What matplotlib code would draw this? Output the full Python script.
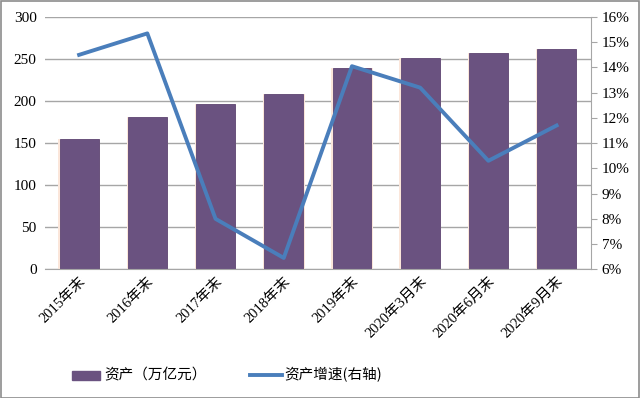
import matplotlib.pyplot as plt
from matplotlib.patches import Rectangle
from matplotlib.lines import Line2D

plt.rcParams['font.family'] = ['Liberation Serif', 'Noto Sans CJK SC']

# data
categories = ['2015年末', '2016年末', '2017年末', '2018年末', '2019年末',
              '2020年3月末', '2020年6月末', '2020年9月末']
assets = [155, 181, 196, 209, 239, 251, 257, 262]          # 万亿元
growth = [14.5, 15.35, 8.0, 6.45, 14.05, 13.2, 10.3, 11.7]  # %

bar_color = '#6A5280'
line_color = '#4A7EBB'

fig = plt.figure(figsize=(6.4, 3.98), dpi=100)
ax = fig.add_axes([45 / 640, 1 - 269.3 / 398, 545.7 / 640, 252.3 / 398])

x = range(len(categories))
# faint glow behind the bars, then the bars
ax.bar(x, assets, width=0.61, color='#FBE6DA', zorder=2)
ax.bar(x, assets, width=0.57, color=bar_color, edgecolor='#5E4775',
       linewidth=0.6, zorder=2)
ax.set_xlim(-0.5, len(categories) - 0.5)
ax.set_ylim(0, 300)
ax.set_yticks(range(0, 301, 50))
ax.yaxis.grid(True, color='#A6A6A6', linewidth=1)
ax.set_axisbelow(True)
ax.tick_params(axis='y', length=0, labelsize=11, pad=6)
ax.tick_params(axis='x', length=0, labelsize=10.5, pad=4)
ax.set_xticks(list(x))
ax.set_xticklabels(categories, rotation=45, ha='right', va='top',
                   rotation_mode='anchor')
for s in ['top', 'left', 'right']:
    ax.spines[s].set_visible(False)
ax.spines['bottom'].set_color('#A6A6A6')

ax2 = ax.twinx()
ax2.plot(x, growth, color=line_color, linewidth=2.8, zorder=3)
ax2.set_ylim(6, 16)
ax2.set_yticks(range(6, 17))
ax2.set_yticklabels([f'{v}%' for v in range(6, 17)])
ax2.tick_params(axis='y', direction='out', length=4, color='#A6A6A6',
                labelsize=11, pad=4)
for s in ['top', 'left', 'bottom']:
    ax2.spines[s].set_visible(False)
ax2.spines['right'].set_color('#A6A6A6')

# legend at the bottom
fig.patches.append(Rectangle((72 / 640, 1 - 380 / 398), 28 / 640, 9 / 398,
                             transform=fig.transFigure, color=bar_color))
fig.text(104 / 640, 1 - 375 / 398, '资产（万亿元）', fontsize=10.5,
         va='center', family=['Noto Sans CJK SC'])
fig.lines.append(Line2D([250 / 640, 282 / 640], [1 - 375 / 398, 1 - 375 / 398],
                        transform=fig.transFigure, color=line_color,
                        linewidth=2.8))
fig.text(284 / 640, 1 - 375 / 398, '资产增速(右轴)', fontsize=10.5,
         va='center', family=['Noto Sans CJK SC'])

# outer border
fig.patches.append(Rectangle((0.5 / 640, 0.5 / 398), 638.5 / 640, 396.5 / 398,
                             transform=fig.transFigure, fill=False,
                             edgecolor='#8C8C8C', linewidth=1.2))

fig.savefig('out.png', dpi=100)
